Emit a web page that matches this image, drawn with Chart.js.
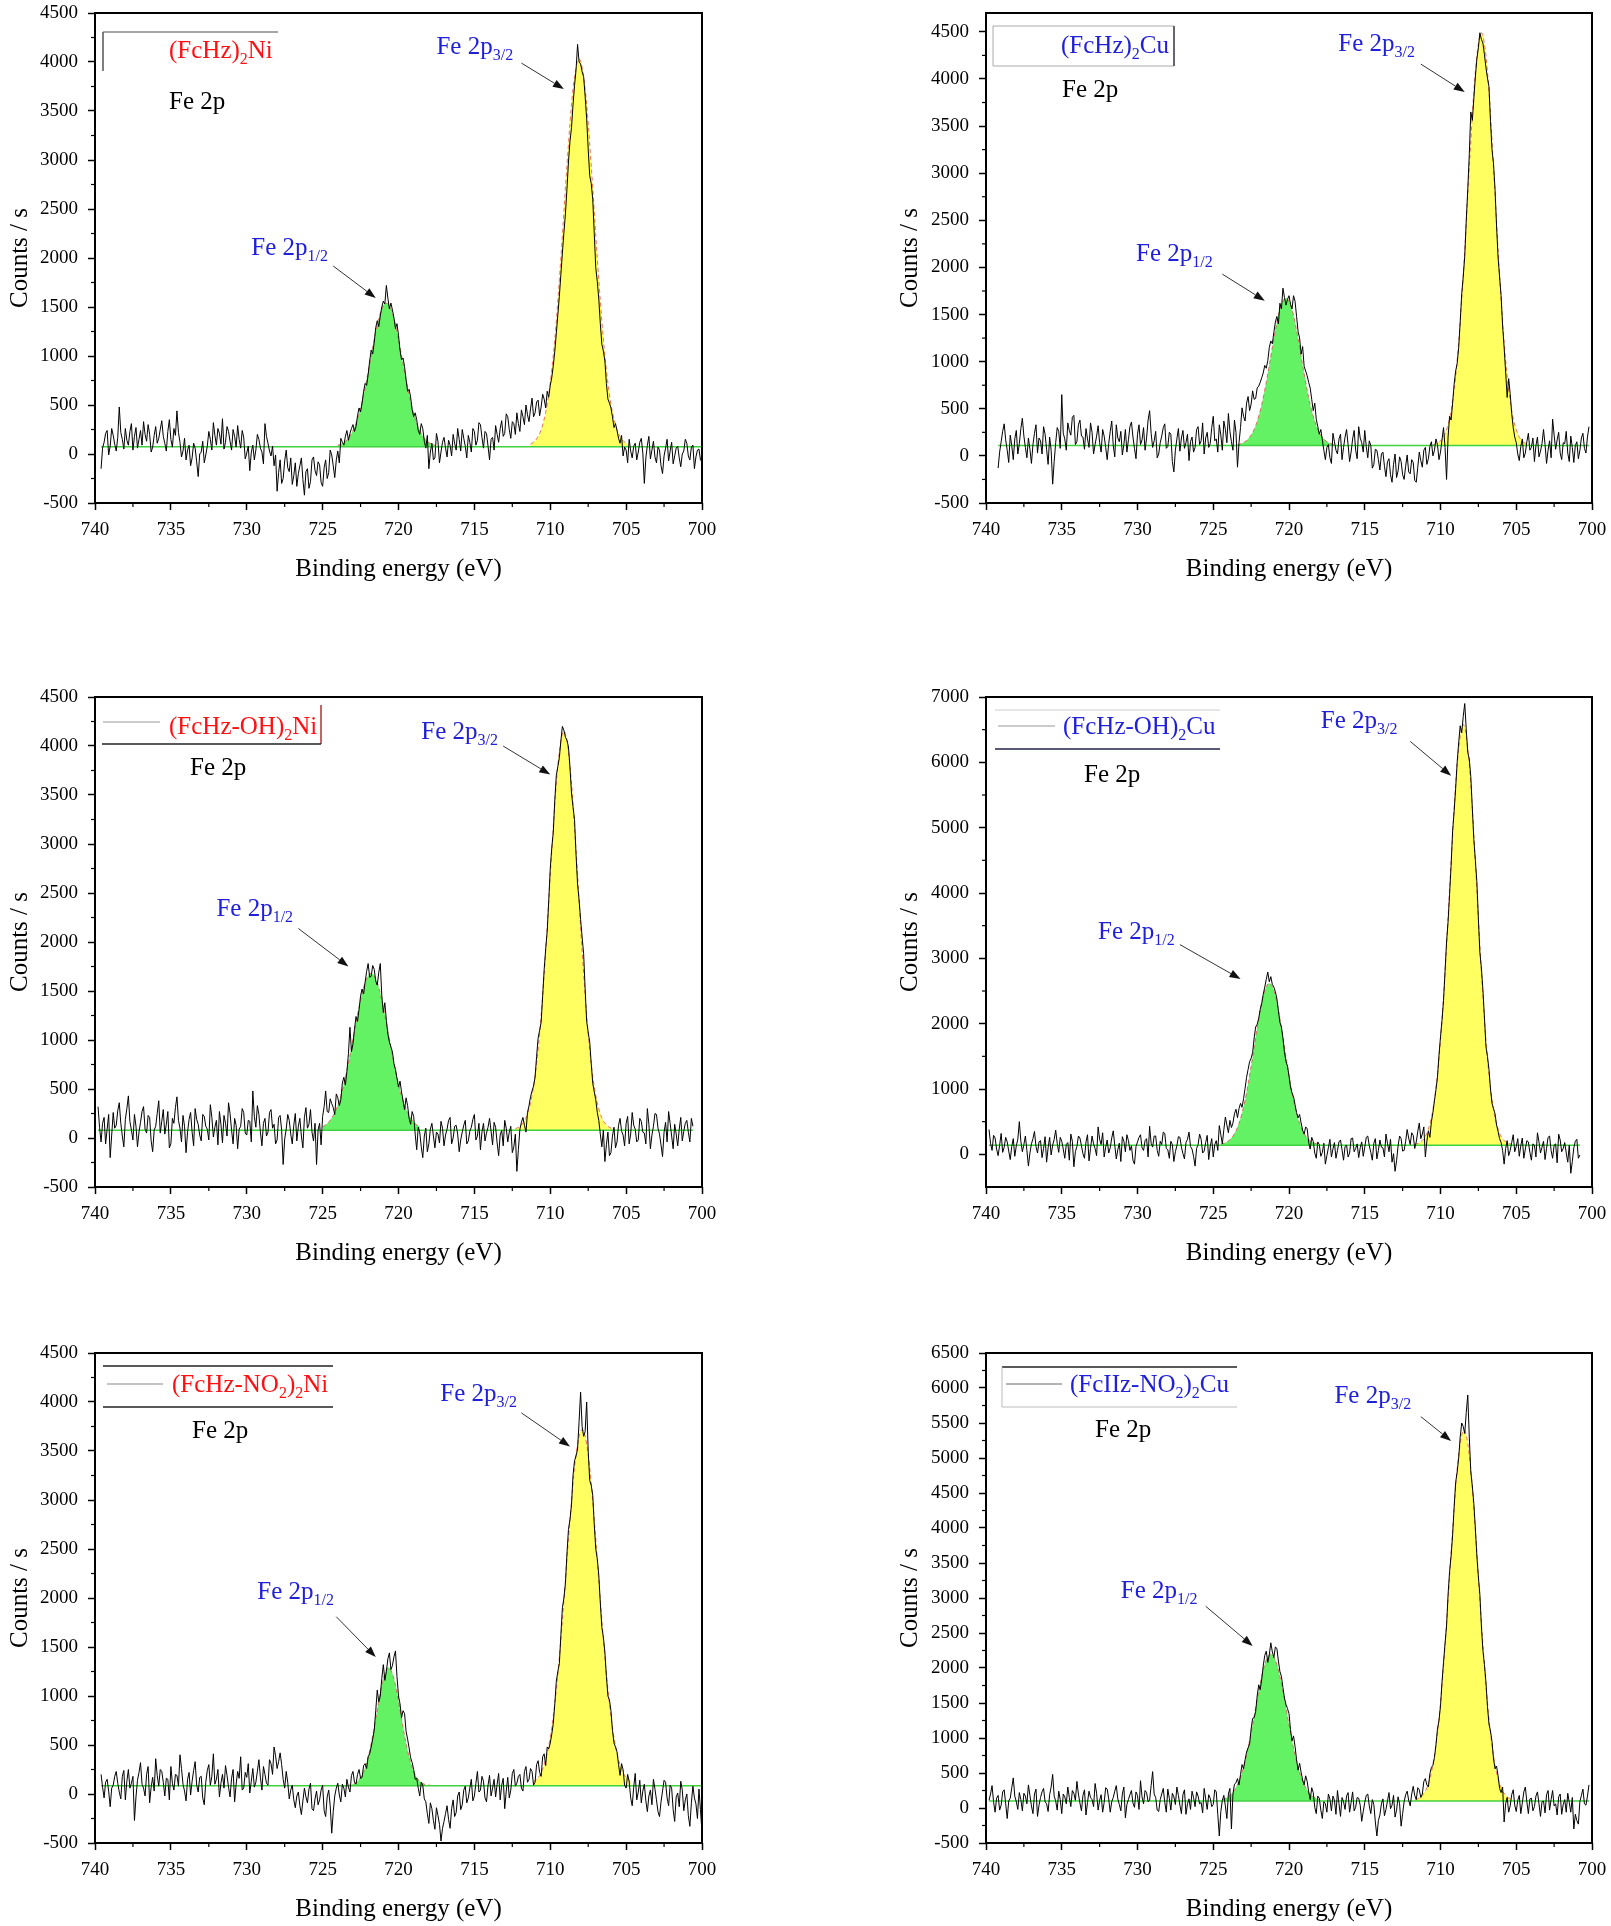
<!DOCTYPE html>
<html lang="en">
<head>
    <meta charset="UTF-8">
    <title>Fe 2p XPS spectra</title>
    <script src="https://cdn.jsdelivr.net/npm/chart.js@4.4.1/dist/chart.umd.min.js"></script>
    <style>
        body { margin: 0; background: #ffffff; width: 1611px; height: 1926px; position: relative; overflow: hidden; }
        canvas { position: absolute; }
    </style>
</head>
<body>
<script>
    // sampling of the spectra (eV)
    const DATA_STEP = 0.1;
    const FIT_STEP = 0.4;
    const SERIF = '"Liberation Serif", "Times New Roman", serif';

    const xTickValues = [740, 735, 730, 725, 720, 715, 710, 705, 700];
    const yTicks4500 = [-500, 0, 500, 1000, 1500, 2000, 2500, 3000, 3500, 4000, 4500];
    const yTicks7000 = [0, 1000, 2000, 3000, 4000, 5000, 6000, 7000];
    const yTicks6500 = [-500, 0, 500, 1000, 1500, 2000, 2500, 3000, 3500, 4000, 4500, 5000, 5500, 6000, 6500];

    // (FcHz)2Ni, 739.6 -> 700.0 eV
    const p1Counts = [-150,60,120,210,240,-10,80,260,190,100,30,170,480,220,150,50,260,140,90,230,
        310,40,180,270,60,150,240,90,330,200,130,300,200,20,70,190,280,110,160,250,
        340,180,110,30,230,350,150,70,260,190,440,220,120,-30,30,160,-60,40,90,-120,
        -40,110,60,-80,-230,0,20,130,-90,-10,80,230,150,40,320,190,90,260,210,100,
        360,50,120,280,230,130,40,250,180,70,290,150,60,240,170,-50,10,80,-170,20,
        90,-60,40,200,150,60,20,-100,310,180,110,30,-20,80,-120,-10,-380,-190,-60,-300,
        -250,-70,40,-140,-180,-40,-310,-220,-90,-330,-200,-120,-40,-260,-420,-180,-150,-350,-280,-60,
        -30,-170,-220,-80,-110,-290,-330,-140,-60,-250,-190,40,-10,-120,-240,-60,30,-90,160,120,
        90,180,240,140,210,260,300,230,280,390,470,430,520,640,720,700,810,950,1060,1020,
        1140,1290,1360,1300,1410,1500,1560,1530,1720,1590,1480,1540,1470,1390,1280,1330,1210,1060,960,980,
        890,760,640,660,580,450,380,420,350,240,200,310,260,130,60,190,-150,20,110,-60,
        -40,210,130,-90,20,120,170,60,-30,140,90,-20,200,110,40,260,150,30,250,160,
        80,-40,190,120,20,260,230,90,140,320,300,170,60,230,210,80,-60,150,170,40,
        290,200,120,260,340,180,210,410,380,250,160,330,310,200,420,310,230,450,380,300,
        500,400,330,460,570,380,420,530,550,390,480,610,560,470,640,580,700,780,900,1050,
        1230,1420,1610,1830,2050,2260,2450,2700,2980,3190,3330,3560,3760,3920,4180,4000,3980,3900,3850,3650,
        3420,3110,2840,2760,2600,2250,1900,1760,1580,1330,1120,1050,950,720,560,520,470,380,270,310,
        240,160,110,190,-20,70,40,-90,150,30,-40,80,110,-60,20,120,160,10,-300,-40,
        90,180,-50,40,130,-30,-90,70,40,-120,-200,-20,60,150,-70,30,120,-100,-20,60,
        80,-40,-130,0,30,150,110,-20,-60,70,90,-150,-30,40,50,-60,-80];
    const p1Green = [89,117,183,314,534,837,1171,1437,1540,1437,1171,837,534,314,183,117,89];
    const p1Yellow = [99,154,296,609,1174,2001,2946,3726,4030,3726,2946,2001,1174,609,296,154,99];

    // (FcHz)2Cu, 739.2 -> 700.2 eV
    const p2Counts = [-130,40,150,260,340,170,60,-70,220,110,-40,180,270,20,130,290,400,210,90,-20,
        190,70,-80,120,240,330,30,190,160,20,310,230,70,-90,200,60,-300,-60,140,300,
        260,80,650,240,180,60,350,270,220,410,430,120,150,330,380,210,200,70,290,180,
        90,350,250,20,120,210,320,140,40,280,210,90,-40,130,260,370,110,-10,330,190,
        150,260,10,120,280,40,170,310,360,200,80,-30,230,330,120,170,300,60,190,380,
        480,240,90,160,260,-20,20,140,210,300,340,80,100,250,230,-60,-170,60,180,290,
        50,190,270,80,140,230,-50,150,200,40,90,280,310,120,160,350,20,190,250,90,
        130,300,420,160,180,40,330,220,60,370,280,140,450,260,150,60,380,250,-120,140,
        300,510,420,370,560,630,480,550,690,600,610,720,740,780,830,880,960,930,1010,1150,
        1220,1190,1310,1420,1480,1400,1620,1560,1780,1680,1600,1660,1700,1610,1560,1700,1640,1480,1320,1250,
        1080,1160,950,900,850,780,720,600,480,560,390,310,230,280,170,60,-40,90,120,-20,
        -80,240,150,60,20,180,230,-40,90,200,280,120,-60,40,180,270,60,-30,310,190,
        140,40,270,100,-20,160,110,-130,-90,70,60,-40,-150,20,40,-110,-220,-60,-30,-200,
        -280,-90,20,-230,-160,-10,-60,-200,-250,-110,10,-170,-190,-40,-70,-260,-280,-120,40,-50,
        -120,60,90,-90,-30,100,150,0,60,180,120,-40,40,170,300,90,-250,200,420,380,
        560,760,900,980,1150,1420,1720,1900,2120,2500,2830,3200,3650,3560,3790,4020,4210,4330,4490,4420,
        4380,4260,4120,4010,3920,3550,3250,3100,2830,2440,2110,1900,1700,1380,1150,890,620,820,660,450,
        300,200,140,20,-50,100,180,-20,30,150,240,60,90,190,-60,110,200,-10,50,130,
        280,120,-80,60,160,-20,390,220,70,170,250,30,-40,140,130,260,30,-60,210,90,
        -70,110,150,-30,60,190,240,80,30,200,310];
    const p2Green = [119,141,198,321,545,872,1246,1554,1675,1554,1246,872,545,321,198,141,119];
    const p2Yellow = [118,145,235,481,1012,1910,3062,4078,4490,4078,3062,1910,1012,481,235,145,118];

    // (FcHz-OH)2Ni, 739.8 -> 700.6 eV
    const p3Counts = [320,110,-40,150,210,-60,90,240,-200,30,260,100,130,280,360,150,20,-90,190,300,
        430,170,80,-20,240,120,-90,60,160,270,320,90,50,230,210,-30,-140,80,120,250,
        380,50,170,290,40,140,270,-100,-60,200,150,310,420,180,100,-40,230,120,-150,60,
        190,260,60,-80,300,190,140,30,-30,240,220,120,90,-20,340,210,10,110,180,-70,
        270,140,-50,230,150,20,360,250,80,-60,200,130,-110,90,120,300,260,50,30,180,
        170,-40,480,220,110,330,240,60,-80,150,200,20,60,260,290,100,140,-60,-20,210,
        230,80,-270,-10,90,240,180,40,-60,130,250,-30,120,200,20,-100,210,310,100,140,
        290,60,-30,150,-270,80,150,-70,220,320,480,270,260,400,350,310,240,450,410,330,
        390,560,620,540,680,860,1130,880,960,1110,1240,1190,1310,1450,1520,1470,1590,1700,1780,1640,
        1650,1760,1720,1600,1560,1690,1780,1450,1280,1380,1200,1060,980,930,880,760,700,610,520,580,
        470,380,290,410,330,200,140,270,220,40,-120,110,60,-90,-200,20,100,-140,-60,90,
        150,20,-100,60,40,-50,170,100,-80,30,90,180,210,-60,0,120,130,40,-140,-20,
        60,130,180,-60,-30,70,110,190,240,-20,20,150,-120,60,150,-30,50,110,200,70,
        -70,160,110,-50,-180,30,80,-80,180,100,-40,60,120,-150,-90,40,-340,-120,90,160,
        210,130,60,260,330,420,480,530,620,830,1020,1100,1180,1450,1720,1930,2110,2420,2750,2960,
        3120,3450,3700,3790,3880,4050,4200,4160,4090,4060,3990,3780,3520,3380,3250,2890,2590,2430,2230,2050,
        1880,1520,1190,1080,980,760,560,470,390,260,180,40,-90,80,-240,-70,60,-180,-150,20,
        110,-100,-40,130,200,70,30,-80,150,220,-60,40,260,130,90,-40,-20,200,170,60,
        50,-60,300,140,-110,30,120,250,240,100,40,-70,-190,60,160,-40,270,150,20,-110,
        140,40,-80,90,210,-30,70,150,180,60,-40,200,120];
    const p3Green = [113,163,261,432,688,1008,1336,1586,1680,1586,1336,1008,688,432,261,163,113];
    const p3Yellow = [94,133,247,524,1065,1912,2933,3804,4150,3804,2933,1912,1065,524,247,133,94];

    // (FcHz-OH)2Cu, 739.8 -> 700.8 eV
    const p4Counts = [380,170,60,290,250,80,-20,140,320,30,110,260,190,50,-80,120,240,-30,130,230,
        500,200,40,150,280,60,-180,20,160,240,350,120,20,190,210,-50,90,270,-120,100,
        260,-10,140,230,370,170,30,260,200,80,-60,150,180,-90,310,200,-190,40,120,280,
        250,130,10,-60,190,300,-100,90,280,160,90,-20,420,230,150,330,-40,110,220,20,
        100,250,360,140,-70,70,170,-110,270,200,40,300,210,60,130,-90,-150,120,190,260,
        300,100,60,210,240,-40,430,170,110,280,280,60,-30,200,150,340,320,90,70,-60,
        200,150,-110,40,130,270,260,110,10,-70,180,230,340,120,80,-30,-180,90,150,310,
        230,20,50,180,290,-80,120,240,-40,150,210,60,440,300,160,380,570,450,330,520,
        410,480,620,690,560,700,780,720,850,1010,1180,1300,1420,1470,1560,1780,1950,1990,2080,2220,
        2310,2450,2560,2680,2790,2640,2720,2600,2560,2490,2380,2200,2020,1950,1780,1560,1420,1350,1200,1030,
        940,880,760,640,560,610,480,370,310,420,390,180,80,260,200,20,-60,190,150,-30,
        30,170,-150,-20,100,230,-40,80,180,-60,60,190,220,70,-90,120,140,-40,20,240,
        250,40,90,160,-50,100,190,-30,110,260,280,130,30,-90,170,240,-70,60,220,110,
        100,-40,310,170,40,230,-120,10,-260,-100,130,280,240,50,60,200,380,250,150,330,
        290,90,190,350,480,240,310,420,-40,200,360,260,500,640,820,990,1180,1520,1800,2050,
        2350,2800,3250,3560,3980,4420,4950,5250,5600,6000,6300,6560,6450,6700,6900,6500,6150,6050,5780,5300,
        4820,4500,4170,3600,3090,2850,2520,2100,1650,1500,1300,1000,780,700,620,450,350,240,180,60,
        -150,90,210,-20,60,180,300,40,120,240,-30,130,250,-60,80,210,190,30,-90,160,
        140,-40,330,190,20,110,200,-80,90,260,280,60,-60,140,160,-130,310,220,40,90,
        180,20,-120,140,-290,-110,100,200,230,-60,-10];
    const p4Green = [155,190,279,475,829,1348,1940,2429,2620,2429,1940,1348,829,475,279,190,155];
    const p4Yellow = [152,191,324,685,1467,2787,4481,5975,6580,5975,4481,2787,1467,685,324,191,152];

    // (FcHz-NO2)2Ni, 739.6 -> 700.0 eV
    const p5Counts = [200,70,-40,120,150,30,-130,60,90,180,230,110,20,-50,180,240,-60,130,250,60,
        110,180,-270,-30,140,220,320,100,60,-20,200,280,-90,70,170,30,360,190,80,250,
        230,120,-20,160,150,-60,280,110,40,200,190,80,400,260,100,30,-70,150,220,-10,
        130,240,330,90,20,170,180,-40,-110,120,240,300,90,180,410,100,150,250,-30,110,
        200,60,290,190,70,-30,160,250,-80,100,230,160,380,40,60,220,170,310,10,130,
        260,70,120,230,350,170,40,280,200,110,90,350,310,200,480,390,260,330,420,300,
        150,60,230,120,-50,40,90,-60,-140,-20,20,-120,-210,-70,60,-30,-90,50,110,-150,
        -170,-50,30,-110,-60,40,90,-170,-230,-30,40,-120,-400,-180,-20,60,110,-10,-80,100,
        60,-30,150,70,20,190,230,120,100,200,250,160,170,290,310,260,380,410,480,560,
        650,850,1060,940,1000,1180,1320,1160,1250,1380,1440,1270,1310,1400,1460,1200,1000,920,780,850,
        820,640,560,470,370,320,250,150,160,60,-20,120,90,-50,-80,-200,-300,-90,-150,-270,
        -360,-140,-220,-310,-480,-350,-280,-200,-120,-260,-350,-150,-60,-230,-190,-20,20,-160,-110,40,
        80,-90,-40,60,150,-70,-20,110,230,20,40,180,130,-40,-80,90,190,-20,60,150,
        -30,100,210,-60,90,160,-150,30,170,-40,40,210,250,80,110,180,200,60,30,230,
        280,120,150,260,230,90,120,300,340,220,180,380,410,290,480,460,520,610,720,920,
        1150,1250,1330,1620,1900,2000,2150,2450,2700,2800,2950,3250,3400,3450,3520,3800,4100,3750,3650,3700,
        4000,3500,3200,3150,3050,2750,2500,2400,2230,1950,1700,1600,1450,1200,1000,960,850,650,520,480,
        430,300,190,310,250,90,60,200,130,-40,-120,70,210,-60,20,140,-90,30,100,-70,
        -180,-20,40,-110,150,50,-60,-180,-230,-80,30,140,120,-40,-120,90,60,-160,-280,-30,
        10,-130,130,40,-170,-60,0,-220,-330,-90,80,-40,-100,-250,50,-160,-400];
    const p5Green = [85,88,98,138,248,477,816,1148,1290,1148,816,477,248,138,98,88,85];
    const p5Yellow = [120,189,352,677,1223,1975,2804,3466,3720,3466,2804,1975,1223,677,352,189,120];

    // (FcHz-NO2)2Cu, 739.8 -> 700.2 eV
    const p6Counts = [110,200,320,90,-60,140,180,-30,40,230,260,60,-150,100,140,290,430,170,90,-20,
        220,120,-40,210,170,60,330,180,30,-80,200,270,-120,40,150,230,280,90,60,-50,
        190,300,480,170,100,-30,240,120,-80,200,160,60,300,150,20,250,210,110,380,200,
        70,-40,180,260,-100,80,240,150,120,20,350,210,-30,110,190,-60,80,290,270,130,
        -60,90,150,240,320,130,50,-40,200,300,-140,50,120,190,250,70,10,230,180,-20,
        390,160,60,250,220,90,110,320,520,200,150,-30,-50,120,200,280,80,-60,270,140,
        -30,210,160,50,300,180,40,-80,190,260,-90,60,130,-20,240,150,20,230,170,60,
        80,-70,280,130,-20,190,140,20,50,260,230,-90,-400,-50,110,180,30,-150,200,280,
        -300,200,340,360,420,330,480,620,560,690,800,860,920,1130,1280,1290,1380,1600,1760,1690,
        1840,2030,2180,2240,2080,2190,2360,2230,2150,2300,2280,2100,1950,1880,1720,1570,1480,1420,1350,1120,
        960,1030,880,690,540,640,510,400,330,460,380,230,120,290,220,10,-80,170,140,-30,
        -150,90,60,-60,200,130,-40,170,110,-90,250,60,-120,150,90,-20,170,220,-60,80,
        230,-40,10,150,140,40,-190,-50,80,180,200,30,-80,120,50,-200,-400,-180,-100,60,
        130,-110,-20,100,220,-10,40,180,-130,-30,160,60,-260,-80,90,190,240,110,30,200,
        310,180,120,290,260,150,200,380,420,330,300,490,580,610,720,900,1130,1250,1460,1800,
        2080,2350,2600,3050,3380,3600,3900,4300,4650,4800,5000,5300,5500,5450,5350,5650,5900,5300,4800,4600,
        4350,4000,3600,3300,3050,2600,2250,2050,1800,1450,1200,1100,950,700,560,600,460,280,220,300,
        -200,60,150,-60,30,190,260,40,-50,110,180,-80,70,230,300,90,-80,130,140,-40,
        20,170,230,60,-120,90,100,-70,190,250,-30,120,250,30,60,-100,160,200,-90,50,
        120,-60,210,80,-60,150,-300,-90,-180,-230,90,180,270,60,40,170,330];
    const p6Green = [120,160,254,442,757,1192,1671,2053,2200,2053,1671,1192,757,442,254,160,120];
    const p6Yellow = [118,169,318,678,1383,2485,3815,4950,5400,4950,3815,2485,1383,678,318,169,118];

    const RED = '#ff1010';
    const BLUE = '#2020d8';

    // layout + annotations for each panel (frame lines are px from the plot's top-left corner)
    const panels = [
        { left: 0, top: 0, width: 730, axisW: 95, padR: 28,
          counts: p1Counts, start: 739.6, base: 75, green: p1Green, greenStart: 724.0, yellow: p1Yellow, yellowStart: 711.3,
          yMin: -500, yMax: 4500, yTicks: yTicks4500,
          name: ['(FcHz)', '_2', 'Ni'], nameColor: RED, namePos: [74, 45], fePos: [74, 96],
          frame: [[8, 19, 183, 19, '#888', 1.5], [8, 19, 8, 58, '#555', 1.5]],
          p32: [717.5, 4155, 711.9, 3989, 709.1, 3724], p12: [729.7, 2100, 724.3, 1918, 721.5, 1592] },
        { left: 890, top: 0, width: 721, axisW: 96, padR: 19,
          counts: p2Counts, start: 739.2, base: 110, green: p2Green, greenStart: 723.4, yellow: p2Yellow, yellowStart: 710.5,
          yMin: -500, yMax: 4700, yTicks: yTicks4500,
          name: ['(FcHz)', '_2', 'Cu'], nameColor: BLUE, namePos: [75, 40], fePos: [76, 84],
          frame: [[7, 13, 188, 13, '#aaa', 1], [7, 53, 188, 53, '#aaa', 1], [7, 13, 7, 53, '#aaa', 1], [188, 13, 188, 53, '#334', 1.5]],
          p32: [716.75, 4370, 711.3, 4158, 708.4, 3861], p12: [730.1, 2146, 724.4, 1929, 721.6, 1647] },
        { left: 0, top: 684, width: 730, axisW: 95, padR: 28,
          counts: p3Counts, start: 739.8, base: 80, green: p3Green, greenStart: 725.0, yellow: p3Yellow, yellowStart: 712.3,
          yMin: -500, yMax: 4500, yTicks: yTicks4500,
          name: ['(FcHz-OH)', '_2', 'Ni'], nameColor: RED, namePos: [74, 37], fePos: [95, 78],
          frame: [[8, 25, 65, 25, '#999', 1], [226, 8, 226, 47, '#a33', 1.5], [7, 47, 226, 47, '#222', 1.5]],
          p32: [718.5, 4142, 713.1, 3999, 710.0, 3709], p12: [732.0, 2334, 726.6, 2138, 723.3, 1750] },
        { left: 890, top: 684, width: 721, axisW: 96, padR: 19,
          counts: p4Counts, start: 739.8, base: 140, green: p4Green, greenStart: 724.5, yellow: p4Yellow, yellowStart: 711.7,
          yMin: -500, yMax: 7000, yTicks: yTicks7000,
          name: ['(FcHz-OH)', '_2', 'Cu'], nameColor: BLUE, namePos: [77, 37], fePos: [98, 85],
          frame: [[9, 13, 234, 13, '#ccc', 1], [12, 29, 69, 29, '#999', 1], [9, 52, 234, 52, '#224', 1.5]],
          p32: [717.9, 6632, 712.0, 6321, 709.3, 5795], p12: [732.6, 3408, 727.2, 3210, 723.2, 2684] },
        { left: 0, top: 1340, width: 730, axisW: 95, padR: 28,
          counts: p5Counts, start: 739.6, base: 85, green: p5Green, greenStart: 723.85, yellow: p5Yellow, yellowStart: 711.1,
          yMin: -500, yMax: 4500, yTicks: yTicks4500,
          name: ['(FcHz-NO', '_2', ')', '_2', 'Ni'], nameColor: RED, namePos: [77, 39], fePos: [97, 85],
          frame: [[8, 13, 238, 13, '#222', 1.5], [12, 31, 68, 31, '#888', 1], [8, 54, 238, 54, '#222', 1.5]],
          p32: [717.25, 4080, 711.9, 3889, 708.7, 3546], p12: [729.3, 2057, 724.1, 1809, 721.5, 1397] },
        { left: 890, top: 1340, width: 721, axisW: 96, padR: 19,
          counts: p6Counts, start: 739.8, base: 100, green: p6Green, greenStart: 724.4, yellow: p6Yellow, yellowStart: 711.65,
          yMin: -500, yMax: 6500, yTicks: yTicks6500,
          name: ['(FcIIz-NO', '_2', ')', '_2', 'Cu'], nameColor: BLUE, namePos: [84, 39], fePos: [109, 84],
          frame: [[16, 14, 251, 14, '#222', 1.5], [16, 14, 16, 54, '#bbb', 1], [16, 54, 251, 54, '#bbb', 1], [20, 31, 76, 31, '#666', 1]],
          p32: [717.0, 5885, 711.3, 5591, 709.3, 5244], p12: [731.1, 3095, 725.5, 2882, 722.4, 2315] }
    ];

    function toPoints(start, step, values) {
        return values.map((v, i) => ({ x: +(start - step * i).toFixed(2), y: v }));
    }

    function line(ctx, x1, y1, x2, y2) {
        ctx.beginPath();
        ctx.moveTo(x1, y1);
        ctx.lineTo(x2, y2);
        ctx.stroke();
    }

    // text with "_" parts drawn as subscripts
    function drawRich(ctx, parts, x, y, color) {
        ctx.fillStyle = color;
        ctx.textAlign = 'left';
        ctx.textBaseline = 'alphabetic';
        parts.forEach(t => {
            const sub = t[0] === '_';
            const s = sub ? t.slice(1) : t;
            ctx.font = (sub ? '16px ' : '25px ') + SERIF;
            ctx.fillText(s, x, sub ? y + 6 : y);
            x += ctx.measureText(s).width;
        });
    }

    function drawArrow(ctx, x1, y1, x2, y2) {
        const a = Math.atan2(y2 - y1, x2 - x1);
        const hx = x2 - 11 * Math.cos(a), hy = y2 - 11 * Math.sin(a);
        ctx.strokeStyle = '#333';
        ctx.lineWidth = 1;
        line(ctx, x1, y1, hx, hy);
        ctx.fillStyle = '#111';
        ctx.beginPath();
        ctx.moveTo(x2, y2);
        ctx.lineTo(hx + 4 * Math.sin(a), hy - 4 * Math.cos(a));
        ctx.lineTo(hx - 4 * Math.sin(a), hy + 4 * Math.cos(a));
        ctx.closePath();
        ctx.fill();
    }

    function decor(p) {
        return {
            id: 'decor',
            afterDraw(chart) {
                const ctx = chart.ctx, a = chart.chartArea;
                const xs = chart.scales.x, ys = chart.scales.y;
                ctx.save();
                ctx.strokeStyle = '#000';
                ctx.lineWidth = 2;
                ctx.strokeRect(a.left, a.top, a.right - a.left, a.bottom - a.top);

                // minor ticks
                ctx.lineWidth = 1.2;
                for (let i = 0; i < xTickValues.length - 1; i++) {
                    const px = xs.getPixelForValue((xTickValues[i] + xTickValues[i + 1]) / 2);
                    line(ctx, px, a.bottom, px, a.bottom + 4);
                }
                for (let i = 0; i < p.yTicks.length - 1; i++) {
                    const py = ys.getPixelForValue((p.yTicks[i] + p.yTicks[i + 1]) / 2);
                    line(ctx, a.left - 4, py, a.left, py);
                }

                // legend leftovers
                p.frame.forEach(f => {
                    ctx.strokeStyle = f[4];
                    ctx.lineWidth = f[5];
                    line(ctx, a.left + f[0], a.top + f[1], a.left + f[2], a.top + f[3]);
                });
                drawRich(ctx, p.name, a.left + p.namePos[0], a.top + p.namePos[1], p.nameColor);
                drawRich(ctx, ['Fe 2p'], a.left + p.fePos[0], a.top + p.fePos[1], '#000');

                // peak labels + arrows
                [[p.p32, '_3/2'], [p.p12, '_1/2']].forEach(([q, sub]) => {
                    drawRich(ctx, ['Fe 2p', sub], xs.getPixelForValue(q[0]), ys.getPixelForValue(q[1]) + 7, BLUE);
                    drawArrow(ctx, xs.getPixelForValue(q[2]), ys.getPixelForValue(q[3]),
                        xs.getPixelForValue(q[4]), ys.getPixelForValue(q[5]));
                });
                ctx.restore();
            }
        };
    }

    const tickFont = { family: SERIF, size: 19 };
    const titleFont = { family: SERIF, size: 25 };

    panels.forEach(p => {
        const cv = document.createElement('canvas');
        cv.width = p.width;
        cv.height = 585;
        cv.style.left = p.left + 'px';
        cv.style.top = p.top + 'px';
        document.body.appendChild(cv);

        const end = +(p.start - DATA_STEP * (p.counts.length - 1)).toFixed(2);
        new Chart(cv, {
            type: 'line',
            data: {
                datasets: [
                    { data: toPoints(p.start, DATA_STEP, p.counts), borderColor: '#000', borderWidth: 1, pointRadius: 0, order: 0 },
                    { data: [{ x: p.start, y: p.base }, { x: end, y: p.base }], borderColor: '#3fd23f', borderWidth: 1.5, pointRadius: 0, order: 1 },
                    { data: toPoints(p.greenStart, FIT_STEP, p.green), borderColor: 'rgba(225,70,70,0.75)', borderDash: [4, 3], borderWidth: 1,
                      backgroundColor: '#63f263', fill: { value: p.base }, cubicInterpolationMode: 'monotone', pointRadius: 0, order: 2 },
                    { data: toPoints(p.yellowStart, FIT_STEP, p.yellow), borderColor: 'rgba(225,70,70,0.75)', borderDash: [4, 3], borderWidth: 1,
                      backgroundColor: '#ffff62', fill: { value: p.base }, cubicInterpolationMode: 'monotone', pointRadius: 0, order: 3 }
                ]
            },
            options: {
                responsive: false,
                animation: false,
                events: [],
                layout: { padding: { top: 13, right: p.padR, left: 0, bottom: 0 } },
                plugins: { legend: { display: false }, tooltip: { enabled: false } },
                scales: {
                    x: {
                        type: 'linear', reverse: true, min: 700, max: 740,
                        afterBuildTicks: s => { s.ticks = xTickValues.map(v => ({ value: v })); },
                        // fixed box so the plot area sits where the original one does
                        afterFit: s => { s.height = 82; s.paddingLeft = 0; s.paddingRight = 0; },
                        ticks: { color: '#000', font: tickFont, padding: 9, maxRotation: 0, autoSkip: false, callback: v => String(v) },
                        grid: { drawOnChartArea: false, drawTicks: true, tickLength: 7, tickWidth: 1.5, tickColor: '#000' },
                        border: { display: false },
                        title: { display: true, text: 'Binding energy (eV)', color: '#000', font: titleFont, padding: { top: 0, bottom: 1 } }
                    },
                    y: {
                        type: 'linear', min: p.yMin, max: p.yMax,
                        afterBuildTicks: s => { s.ticks = p.yTicks.map(v => ({ value: v })); },
                        afterFit: s => { s.width = p.axisW; s.paddingTop = 0; s.paddingBottom = 0; },
                        ticks: { color: '#000', font: tickFont, padding: 10, autoSkip: false, callback: v => String(v) },
                        grid: { drawOnChartArea: false, drawTicks: true, tickLength: 7, tickWidth: 1.5, tickColor: '#000' },
                        border: { display: false },
                        title: { display: true, text: 'Counts / s', color: '#000', font: titleFont, padding: { top: 5, bottom: 0 } }
                    }
                }
            },
            plugins: [decor(p)]
        });
    });
</script>
</body>
</html>
